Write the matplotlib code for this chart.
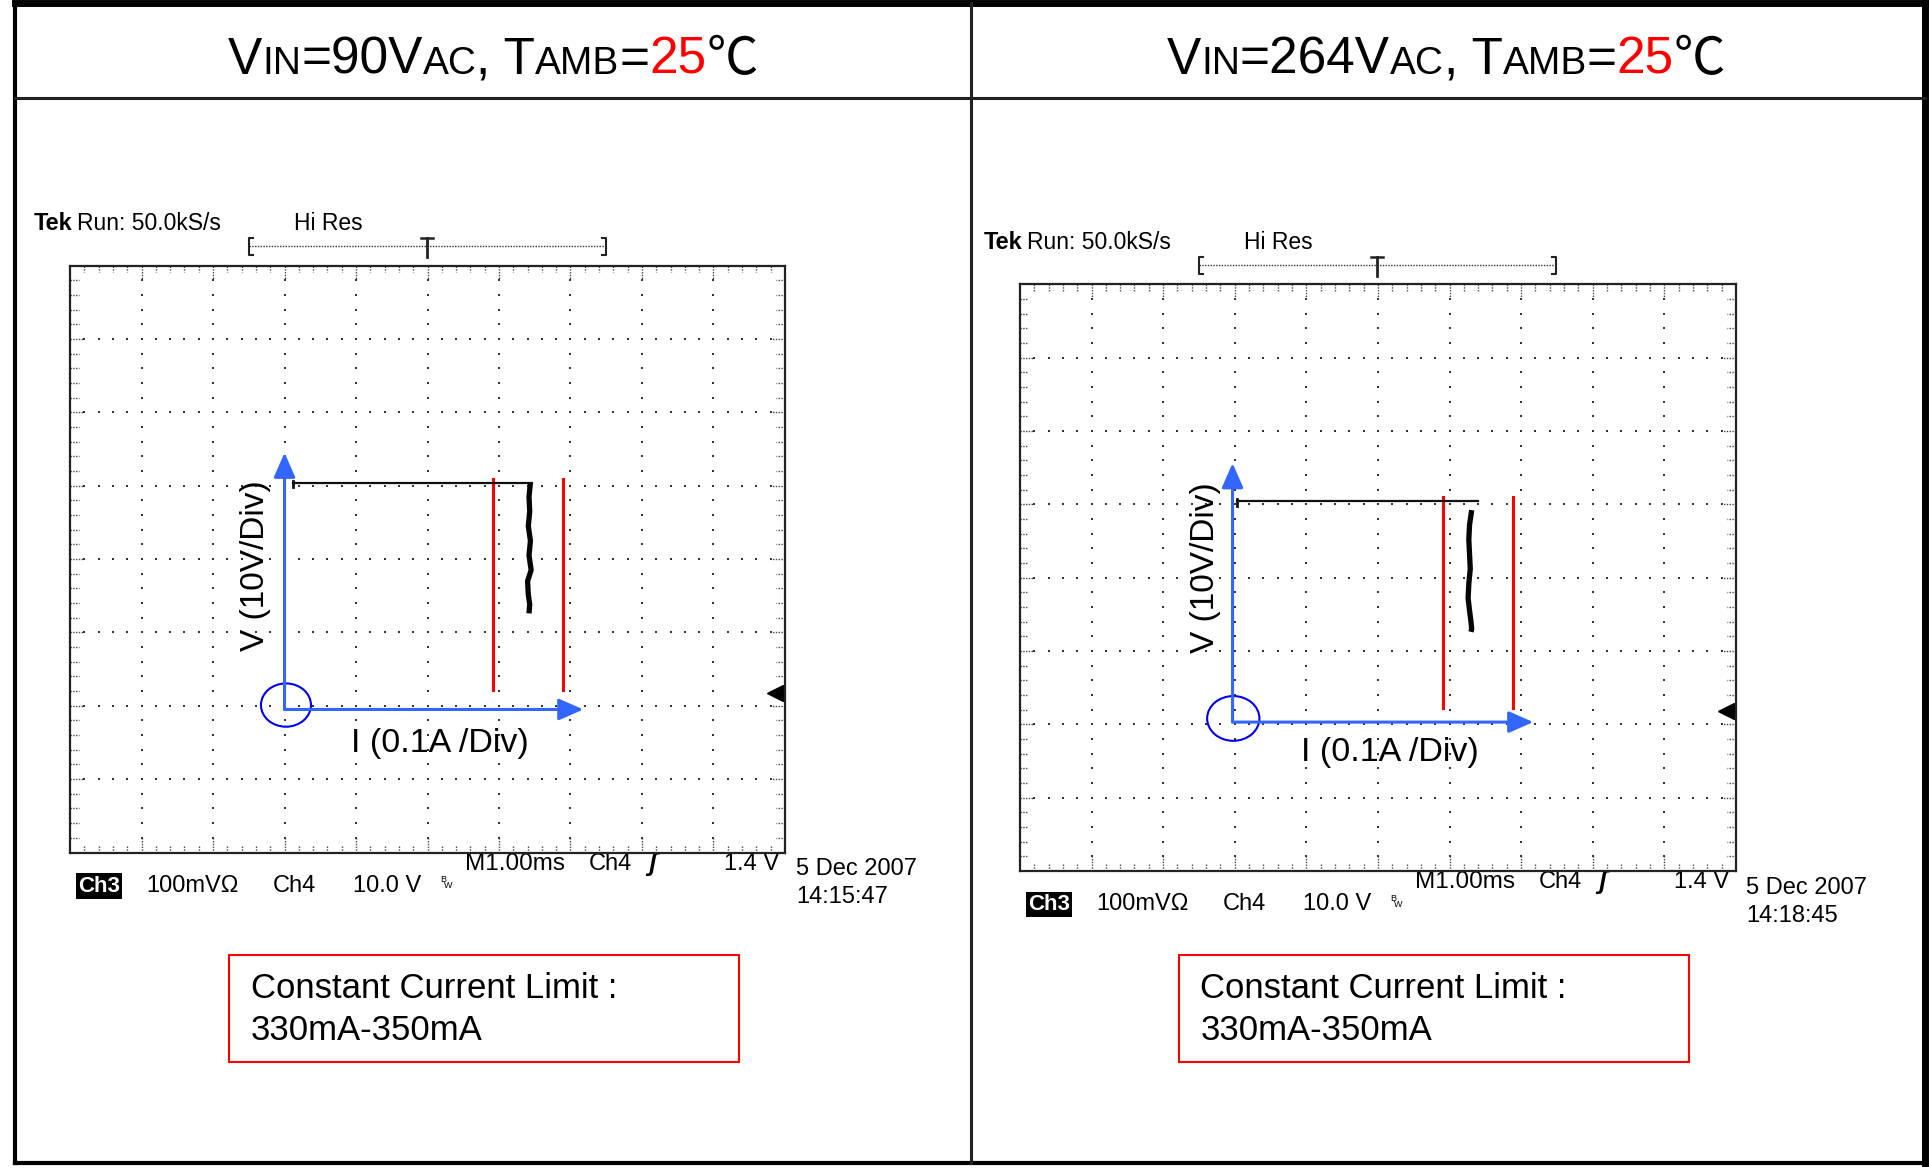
import matplotlib
matplotlib.use('Agg')
import matplotlib.pyplot as plt
import numpy as np
from matplotlib.patches import Ellipse, Rectangle

plt.rcParams['font.family'] = ['Liberation Sans', 'DejaVu Sans']

W, H = 1929, 1168

# --- data (scope divisions: x 0..10, y 0..8) ---
vin = ['90', '264']
tamb = '25'
dates = ['5 Dec 2007', '5 Dec 2007']
times = ['14:15:47', '14:18:45']
limit_text = ['Constant Current Limit :', '330mA-350mA']

flat_x = [[3.12, 6.46], [3.03, 6.40]]
flat_v = [5.04, 5.04]
cc_v = [[5.04, 4.85, 4.65, 4.45, 4.25, 4.05, 3.85, 3.70, 3.52, 3.38, 3.26],
        [4.92, 4.72, 4.52, 4.32, 4.12, 3.92, 3.72, 3.55, 3.40, 3.30, 3.26]]
cc_x = [[6.44, 6.42, 6.43, 6.41, 6.44, 6.42, 6.45, 6.40, 6.41, 6.43, 6.42],
        [6.31, 6.28, 6.27, 6.28, 6.29, 6.27, 6.26, 6.28, 6.30, 6.31, 6.30]]
red_x = [5.91, 6.89]
red_y = [[2.21, 5.09], [2.22, 5.10]]
origin = [(3.0, 1.95), (2.97, 2.03)]
v_tip = [5.45, 5.56]
i_tip = [7.18, 7.17]
circle = [(3.02, 2.01, 0.70, 0.59), (2.98, 2.08, 0.73, 0.61)]
v_label = [(2.60, 3.91), (2.59, 4.13)]
i_label = [(5.18, 1.48), (5.17, 1.61)]
trig_level = [2.18, 2.18]

# panel placement in pixels
scope_box = [(70.1, 265.7, 784.9, 852.5), (1019.9, 284.2, 1735.9, 871.0)]
shift = [(0, 0), (949.8, 18.5)]
title_cx = [493, 1446]
red_box = [(229, 955, 739, 1062), (1178.5, 955, 1689, 1062)]

blue = '#3366ff'

fig = plt.figure(figsize=(W / 100, H / 100), dpi=100)
bg = fig.add_axes([0, 0, 1, 1])
bg.set_xlim(0, W)
bg.set_ylim(H, 0)
bg.axis('off')

# outer frame
bg.plot([15, 15], [3, 1163], color='k', lw=3)
bg.plot([15, 1925], [3, 3], color='k', lw=5)
bg.plot([1925, 1925], [3, 1163], color='k', lw=5)
bg.plot([15, 1925], [1163, 1163], color='k', lw=3)
bg.plot([15, 1925], [97.5, 97.5], color='#222', lw=2.2)
bg.plot([971, 971], [3, 1163], color='#222', lw=2.2)

renderer = fig.canvas.get_renderer()


def draw_pieces(pieces, cx, base_y):
    objs = []
    for s, size, col, fam in pieces:
        t = bg.text(0, base_y, s, fontsize=size, color=col, va='baseline',
                    ha='left', family=fam)
        objs.append(t)
    widths = [t.get_window_extent(renderer).width for t in objs]
    x = cx - sum(widths) / 2
    for t, w in zip(objs, widths):
        t.set_x(x)
        x += w


sans = ['Liberation Sans', 'DejaVu Sans']
cjk = ['Noto Sans CJK SC', 'DejaVu Sans']
tek = 17

for p in range(2):
    big, small = 37, 28
    pieces = [('V', big, 'k', sans), ('IN', small, 'k', sans),
              ('=' + vin[p] + 'V', big, 'k', sans), ('AC', small, 'k', sans),
              (', T', big, 'k', sans), ('AMB', small, 'k', sans),
              ('=', big, 'k', sans), (tamb, big, 'red', sans),
              ('℃', big, 'k', cjk)]
    draw_pieces(pieces, title_cx[p], 74)

    dx, dy = shift[p]
    # header texts
    bg.text(34 + dx, 224 + dy, 'Tek', fontsize=tek, weight='bold', va='center')
    bg.text(77 + dx, 224 + dy, 'Run: 50.0kS/s', fontsize=tek - 0.5, va='center')
    bg.text(294 + dx, 224 + dy, 'Hi Res', fontsize=tek - 0.5, va='center')
    # trigger bracket
    bg.plot([249 + dx, 606 + dx], [246 + dy, 246 + dy], color='#333', lw=1, ls=(0, (1, 1)))
    for bx, sgn in [(249, 1), (606, -1)]:
        bg.plot([bx + dx + 4 * sgn, bx + dx, bx + dx, bx + dx + 4 * sgn],
                [238 + dy, 238 + dy, 255 + dy, 255 + dy], color='#222', lw=1.5)
    bg.plot([421 + dx, 433 + dx], [238 + dy, 238 + dy], color='#222', lw=1.8)
    bg.plot([427 + dx, 427 + dx], [238 + dy, 257 + dy], color='#222', lw=2)

    # bottom readouts
    bg.text(465 + dx, 864 + dy, 'M1.00ms', fontsize=tek + 0.5, va='center')
    bg.text(589 + dx, 864 + dy, 'Ch4', fontsize=tek, va='center')
    bg.text(648 + dx, 864 + dy, 'ʃ', fontsize=tek + 1, va='center', weight='bold', style='italic')
    bg.text(779 + dx, 864 + dy, '1.4 V', fontsize=tek, va='center', ha='right')
    bg.text(796 + dx, 869 + dy, dates[p], fontsize=tek, va='center')
    bg.text(796 + dx, 897 + dy, times[p], fontsize=tek, va='center')
    bg.text(78 + dx, 886 + dy, 'Ch3', fontsize=tek - 1, va='center', color='white',
            weight='bold',
            bbox=dict(boxstyle='square,pad=0.1', fc='black', ec='none'))
    bg.text(146 + dx, 886 + dy, '100mVΩ', fontsize=tek, va='center')
    bg.text(273 + dx, 886 + dy, 'Ch4', fontsize=tek, va='center')
    bg.text(353 + dx, 886 + dy, '10.0 V', fontsize=tek, va='center')
    bg.text(440 + dx, 880 + dy, 'B', fontsize=6.5, va='center')
    bg.text(444 + dx, 886 + dy, 'W', fontsize=6.5, va='center')

    # red limit box
    x0, y0, x1, y1 = red_box[p]
    bg.add_patch(Rectangle((x0, y0), x1 - x0, y1 - y0, fill=False, ec='red', lw=1.5))
    bg.text(x0 + 22, 989, limit_text[0], fontsize=25, va='center')
    bg.text(x0 + 22, 1031, limit_text[1], fontsize=25, va='center')

    # scope screen
    x0, y0, x1, y1 = scope_box[p]
    ax = fig.add_axes([x0 / W, (H - y1) / H, (x1 - x0) / W, (y1 - y0) / H])
    ax.set_xlim(0, 10)
    ax.set_ylim(0, 8)
    ax.set_xticks([])
    ax.set_yticks([])
    for sp in ax.spines.values():
        sp.set_linewidth(1.6)
        sp.set_color('#222')

    fine_x = np.arange(1, 50) * 0.2
    fine_y = np.arange(1, 40) * 0.2
    gx, gy = [], []
    for i in range(1, 10):
        gx += [i] * len(fine_y)
        gy += list(fine_y)
    for j in range(1, 8):
        gx += list(fine_x)
        gy += [j] * len(fine_x)
    ax.scatter(gx, gy, s=2.2, c='#333', marker='s', linewidths=0)
    for fx in fine_x:
        ln = 0.2 if abs(fx - round(fx)) < 1e-6 else 0.09
        ax.plot([fx, fx], [8, 8 - ln], color='#444', lw=1, ls=(0, (1, 1)))
        ax.plot([fx, fx], [0, ln], color='#444', lw=1, ls=(0, (1, 1)))
    for fy in fine_y:
        ln = 0.2 if abs(fy - round(fy)) < 1e-6 else 0.12
        ax.plot([0, ln], [fy, fy], color='#444', lw=1, ls=(0, (1, 1)))
        ax.plot([10, 10 - ln], [fy, fy], color='#444', lw=1, ls=(0, (1, 1)))

    # trigger level marker
    lvl = trig_level[p]
    ax.plot([9.84, 10], [lvl, lvl], color='k', lw=1.5)
    ax.plot(9.86, lvl, marker='<', ms=11, color='k', clip_on=False)

    # red limit lines
    for rx in red_x:
        ax.plot([rx, rx], red_y[p], color='red', lw=2.2)

    # measured trace
    ax.plot(flat_x[p], [flat_v[p], flat_v[p]], color='#111', lw=1.6)
    ax.plot([flat_x[p][0], flat_x[p][0]], [flat_v[p] - 0.06, flat_v[p] + 0.03], color='#111', lw=2)
    ax.plot(cc_x[p], cc_v[p], color='#050505', lw=3.8, solid_capstyle='butt')

    # blue axes
    ox, oy = origin[p]
    style = '-|>,head_length=0.75,head_width=0.33'
    ax.annotate('', xy=(ox, v_tip[p]), xytext=(ox, oy),
                arrowprops=dict(arrowstyle=style, color=blue, lw=2.2,
                                mutation_scale=20, shrinkA=0, shrinkB=0))
    ax.annotate('', xy=(i_tip[p], oy), xytext=(ox, oy),
                arrowprops=dict(arrowstyle=style, color=blue, lw=2.2,
                                mutation_scale=20, shrinkA=0, shrinkB=0))
    cx, cy, cw, ch = circle[p]
    ax.add_patch(Ellipse((cx, cy), cw, ch, fill=False, ec='#0000ee', lw=1.5))
    ax.text(*v_label[p], 'V (10V/Div)', rotation=90, ha='center', va='center', fontsize=24)
    ax.text(*i_label[p], 'I (0.1A /Div)', ha='center', va='center', fontsize=24.5)

fig.savefig('out.png', dpi=100)
